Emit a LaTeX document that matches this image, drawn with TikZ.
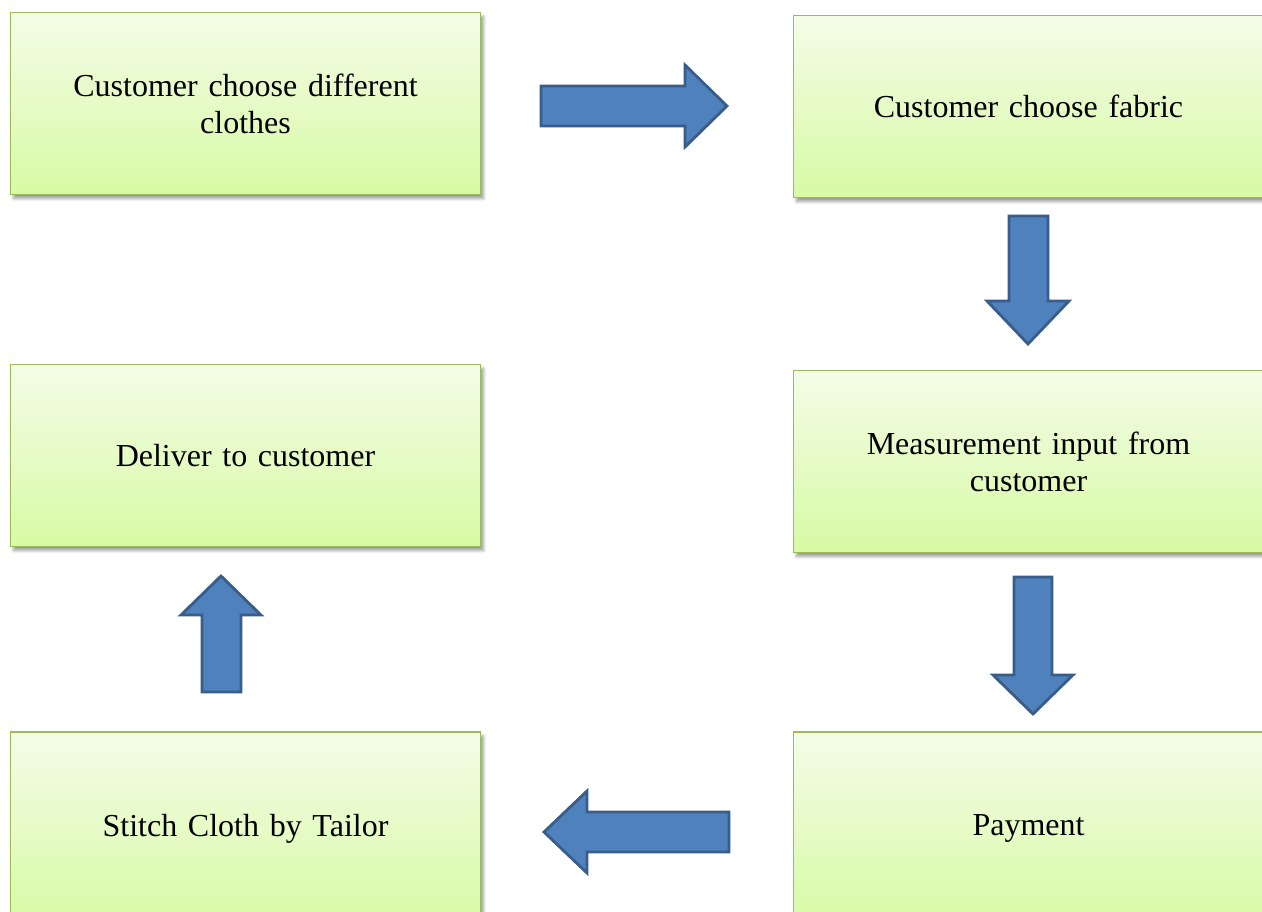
\documentclass[tikz,border=0pt]{standalone}
\usepackage{fontspec}
\setmainfont{Liberation Serif}
\usetikzlibrary{shadows.blur}
\definecolor{boxtop}{RGB}{244,252,232}
\definecolor{boxbot}{RGB}{216,250,164}
\definecolor{boxline}{RGB}{155,187,89}
\definecolor{arrfill}{RGB}{79,129,189}
\definecolor{arrline}{RGB}{56,93,138}
\tikzset{
  stepbox/.style={rectangle, draw=boxline, line width=1.5pt,
    top color=boxtop, bottom color=boxbot,
    minimum width=470pt, minimum height=182pt, inner sep=0pt,
    text width=430pt, align=center,
    font=\fontsize{32}{37}\selectfont,
    blur shadow={shadow xshift=3pt, shadow yshift=-4pt, shadow blur steps=6, shadow blur radius=3pt, shadow opacity=40}},
  blockarrow/.style={fill=arrfill, draw=arrline, line width=2.8pt, line join=miter}
}
\begin{document}
\begin{tikzpicture}[x=1pt,y=-1pt]
\useasboundingbox (0,0) rectangle (1262,912);
\node[stepbox] (clothes) at (245.5,103.5) {Customer choose different\\clothes};
\node[stepbox] (fabric) at (1028.5,106.5) {Customer choose fabric};
\node[stepbox] (deliver) at (245.5,455.5) {Deliver to customer};
\node[stepbox] (measure) at (1028.5,461.5) {Measurement input from\\customer};
\node[stepbox, minimum height=193pt] (stitch) at (245.5,828.5) {Stitch Cloth by Tailor};
\node[stepbox, minimum height=193pt] (payment) at (1028.5,828.5) {Payment};
% right arrow
\draw[blockarrow] (541,86) -- (685,86) -- (685,65) -- (727,106) -- (685,147) -- (685,126) -- (541,126) -- cycle;
% down arrow 1
\draw[blockarrow] (1009,216) -- (1048,216) -- (1048,301) -- (1069,301) -- (1028,344) -- (987,301) -- (1009,301) -- cycle;
% down arrow 2
\draw[blockarrow] (1014,577) -- (1052,577) -- (1052,675) -- (1073,675) -- (1033,714) -- (993,675) -- (1014,675) -- cycle;
% left arrow
\draw[blockarrow] (729,812) -- (587,812) -- (587,791) -- (544,832) -- (587,873) -- (587,852) -- (729,852) -- cycle;
% up arrow
\draw[blockarrow] (202,692) -- (241,692) -- (241,615) -- (261,615) -- (221,576) -- (181,615) -- (202,615) -- cycle;
\end{tikzpicture}
\end{document}
